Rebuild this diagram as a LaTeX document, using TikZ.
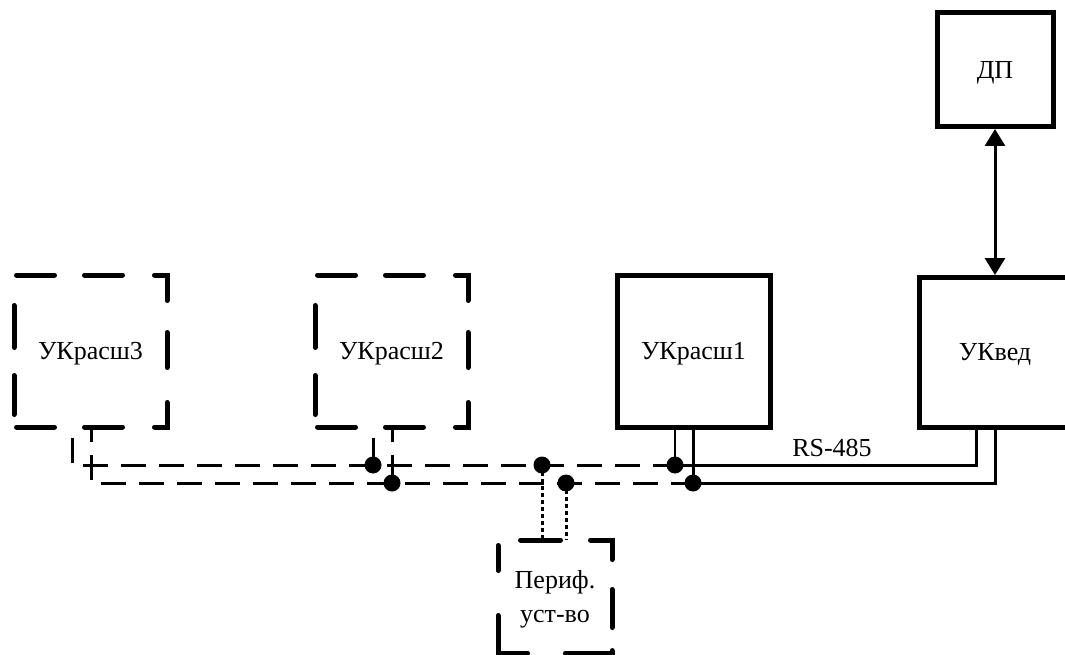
\documentclass[tikz,border=0pt]{standalone}
\usepackage{fontspec}
\setmainfont{Liberation Serif}
\usetikzlibrary{arrows.meta}
\tikzset{
  box/.style={rectangle, inner sep=0pt, outer sep=0pt, align=center,
    font=\fontsize{26}{34}\selectfont, text depth=0pt},
  solidbox/.style={box, draw, line width=5pt, line join=miter},
  brd/.style={line width=5pt, line cap=round, line join=miter},
  bus/.style={line width=3pt},
  busdash/.style={line width=3pt, dash pattern=on 25pt off 13pt},
  thinwire/.style={line width=1.5pt},
  dotwire/.style={line width=3pt, dash pattern=on 4pt off 3pt},
  junction/.style={fill=black},
  biarrow/.style={line width=3pt,
    {Triangle[length=17pt,width=20pt]}-{Triangle[length=17pt,width=20pt]}},
  lbl/.style={font=\fontsize{26}{34}\selectfont, inner sep=0pt, anchor=base}
}
% dashed outline of a 153 x 152 unit box, relative to its north west corner
\newcommand\bigdashborder[1]{%
  \begin{scope}[shift={(#1.north west)}]
    \draw[brd] (2.5,0) -- (40.5,0);
    \draw[brd] (70.5,0) -- (108.5,0);
    \draw[brd] (140.5,0) -- (153,0) -- (153,25.5);
    \draw[brd] (153,57.5) -- (153,92.5);
    \draw[brd] (153,127.5) -- (153,152) -- (140.5,152);
    \draw[brd] (108.5,152) -- (70.5,152);
    \draw[brd] (40.5,152) -- (2.5,152);
    \draw[brd] (0,30.5) -- (0,72.5);
    \draw[brd] (0,100.5) -- (0,139.5);
  \end{scope}}
% dashed outline of the 114 x 113 peripheral box
\newcommand\smalldashborder[1]{%
  \begin{scope}[shift={(#1.north west)}]
    \draw[brd] (22.5,0) -- (62.5,0);
    \draw[brd] (92.5,0) -- (114,0) -- (114,19.5);
    \draw[brd] (114,49.5) -- (114,87.5);
    \draw[brd] (114,110.5) -- (114,113) -- (67.5,113);
    \draw[brd] (29.5,113) -- (0,113) -- (0,75.5);
    \draw[brd] (0,5.5) -- (0,30.5);
  \end{scope}}
\begin{document}
\begin{tikzpicture}[x=1pt,y=-1pt]
\useasboundingbox (0,0) rectangle (1065,655);
\clip (0,0) rectangle (1065,655);

% boxes
\node[box, minimum width=153pt, minimum height=152pt] (b3) at (90.5,351) {УКрасш3};
\node[box, minimum width=153pt, minimum height=152pt] (b2) at (391.5,351) {УКрасш2};
\node[solidbox, minimum width=153pt, minimum height=152pt] (b1) at (693.5,351) {УКрасш1};
\node[solidbox, minimum width=152pt, minimum height=150pt] (ukv) at (995,352) {УКвед};
\node[solidbox, minimum width=116pt, minimum height=114pt] (dp) at (995,70) {ДП};
\node[box, minimum width=114pt, minimum height=113pt] (per) at (555,596.5) {Периф.\\уст-во};
\bigdashborder{b3}
\bigdashborder{b2}
\smalldashborder{per}

% wire start points on box bottoms
\coordinate (w3u) at ([xshift=58pt]b3.south west);
\coordinate (w3l) at ([xshift=77pt]b3.south west);
\coordinate (w2u) at ([xshift=58pt]b2.south west);
\coordinate (w2l) at ([xshift=77pt]b2.south west);
\coordinate (w1u) at ([xshift=58pt]b1.south west);
\coordinate (w1l) at ([xshift=76pt]b1.south west);
\coordinate (wvu) at ([xshift=57pt]ukv.south west);
\coordinate (wvl) at ([xshift=76pt]ukv.south west);

% junctions and corners on the two bus lines
\coordinate (c3u) at (w3u |- 0,465);
\coordinate (c3l) at (w3l |- 0,483);
\coordinate (j2u) at (w2u |- 0,465);
\coordinate (j2l) at (w2l |- 0,483);
\coordinate (jpu) at (542,465);
\coordinate (jpl) at (566,483);
\coordinate (j1u) at (w1u |- 0,465);
\coordinate (j1l) at (w1l |- 0,483);
\coordinate (cvu) at (wvu |- 0,465);
\coordinate (cvl) at (wvl |- 0,483);

% dashed part of the bus
\draw[busdash, dash phase=27pt] (w3u) -- (c3u) -- (j1u);
\draw[busdash, dash phase=10pt] (w3l) -- (c3l) -- (j1l);
\draw[busdash, dash phase=27pt] (w2u) -- (j2u);
\draw[busdash, dash phase=10pt] (w2l) -- (j2l);

% solid RS-485 part
\draw[bus] (j1u) -- (cvu) -- (wvu);
\draw[bus] (j1l) -- (cvl) -- (wvl);
\draw[thinwire] (w1u) -- (j1u);
\draw[bus] (w1l) -- (j1l);
\node[lbl] (rs) at (832,456) {RS-485};

% peripheral device taps
\draw[dotwire] (jpu) -- (jpu |- per.north);
\draw[dotwire] (jpl) -- (jpl |- per.north);

% junction dots
\foreach \j in {j2u,j2l,jpu,jpl,j1u,j1l}
  \fill[junction] (\j) circle (8.5pt);

% ДП <-> УКвед
\draw[biarrow, shorten <=2pt, shorten >=2pt] (dp.south) -- (ukv.north);
\end{tikzpicture}
\end{document}
